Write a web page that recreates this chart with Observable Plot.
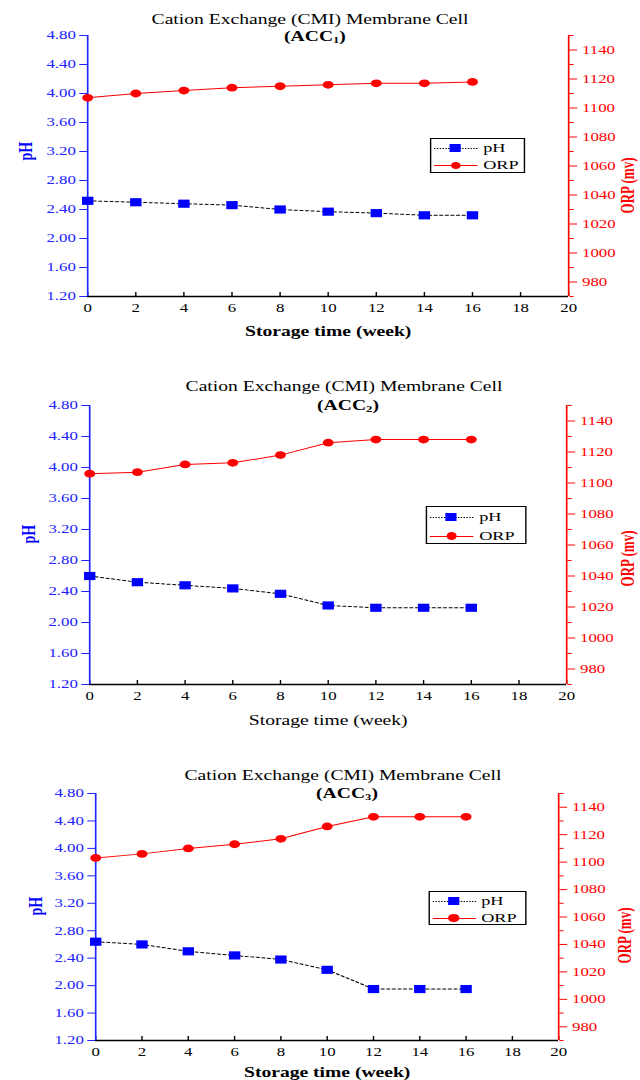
<!DOCTYPE html>
<html>
<head>
<meta charset="utf-8">
<script src="https://cdn.jsdelivr.net/npm/d3@7"></script>
<script src="https://cdn.jsdelivr.net/npm/@observablehq/plot@0.6"></script>
<style>
  html, body { margin: 0; padding: 0; background: #fff; }
  #wrap { position: relative; width: 457px; height: 1080px; transform: scaleX(1.4004); transform-origin: 0 0;
          font-family: "Liberation Serif", "Times New Roman", serif; overflow: visible; }
  .abs { position: absolute; }
  .title { position: absolute; white-space: nowrap; transform: translate(-50%, -50%); font-size: 14px; color: #000; }
  .sub { font-weight: bold; }
  .sub sub { font-size: 9px; vertical-align: -2px; }
  .legend { position: absolute; border: 1px solid #000; background: #fff; box-sizing: border-box; }
  .row { position: absolute; left: 0; height: 14px; width: 100%; }
  .row .ln { position: absolute; left: 2px; width: 31px; top: 7px; height: 0; }
  .row .mk { position: absolute; }
  .row .tx { position: absolute; left: 37px; top: -1px; font-size: 13px; line-height: 16px; color: #000; }
</style>
</head>
<body>
<div id="wrap"></div>
<script>
// ---------- data ----------
const weeks = [0, 2, 4, 6, 8, 10, 12, 14, 16];
const ph1  = [2.52, 2.50, 2.48, 2.46, 2.40, 2.37, 2.35, 2.32, 2.32];
const orp1 = [1107, 1110, 1112, 1114, 1115, 1116, 1117, 1117, 1118];
const ph2  = [2.60, 2.52, 2.48, 2.44, 2.37, 2.22, 2.19, 2.19, 2.19];
const orp2 = [1106, 1107, 1112, 1113, 1118, 1126, 1128, 1128, 1128];
const ph3  = [2.64, 2.60, 2.50, 2.44, 2.38, 2.23, 1.95, 1.95, 1.95];
const orp3 = [1103, 1106, 1110, 1113, 1117, 1126, 1133, 1133, 1133];

const xTicks = [0, 2, 4, 6, 8, 10, 12, 14, 16, 18, 20];
const phTicks = [1.2, 1.6, 2.0, 2.4, 2.8, 3.2, 3.6, 4.0, 4.4, 4.8];
const orpTicks = [980, 1000, 1020, 1040, 1060, 1080, 1100, 1120, 1140];
const orpMinor = [970, 990, 1010, 1030, 1050, 1070, 1090, 1110, 1130, 1150];
const xDomain = [0, 20];
const phDomain = [1.2, 4.8];
const orpDomain = [970, 1150];

const titleText = "Cation Exchange (CMI) Membrane Cell";
const subNames = ["ACC", "ACC", "ACC"];
const subIdx = ["1", "2", "3"];
const xTitle = "Storage time (week)";
const phTitle = "pH";
const orpTitle = "ORP (mv)";
const legendNames = ["pH", "ORP"];
const phSeries = [ph1, ph2, ph3];
const orpSeries = [orp1, orp2, orp3];

// ---------- layout (reference pixel coords; x is divided by S) ----------
const S = 1.4004;
const PW = 457;
const FONT = "'Liberation Serif', 'Times New Roman', serif";
const BLUE = "#0000ff";
const AXBLUE = "#2222ff";
const RED = "#ff0000";

const panels = [
  {top: 0, height: 345, fTop: 35, fBot: 296, left: 87, right: 568, xBold: true, xLabY: 331,
   title: [310, 20], sub: [315, 37], legend: [430, 138, 95, 35], phLab: [25, 160], orpLab: [627, 157]},
  {top: 370, height: 365, fTop: 405, fBot: 684, left: 89, right: 566, xBold: false, xLabY: 720,
   title: [344, 387], sub: [348, 406], legend: [426, 506, 100, 38], phLab: [28, 543], orpLab: [627, 530]},
  {top: 755, height: 325, fTop: 793, fBot: 1040, left: 95, right: 558, xBold: true, xLabY: 1072,
   title: [343, 776], sub: [347, 794], legend: [428, 891, 98, 34], phLab: [35, 915], orpLab: [624, 907]}
];

const wrap = document.getElementById("wrap");

panels.forEach((p, k) => {
  const data = weeks.map((w, i) => ({week: w, ph: phSeries[k][i], orp: orpSeries[k][i]}));
  const mL = p.left / S, mR = (640 - p.right) / S;
  const mT = p.fTop - p.top, mB = p.top + p.height - p.fBot;
  const frameH = p.fBot - p.fTop;
  const frameMid = (p.fTop + p.fBot) / 2;
  const base = {
    width: PW, height: p.height, marginTop: mT, marginBottom: mB, marginLeft: mL, marginRight: mR,
    style: `font-family: ${FONT}; background: transparent; overflow: visible;`
  };

  // pH plot (left axis + x axis)
  const phPlot = Plot.plot({
    ...base,
    x: {domain: xDomain, axis: null},
    y: {domain: phDomain, axis: null},
    marks: [
      Plot.ruleY([phDomain[0]], {stroke: "#000", strokeWidth: 1.3}),
      Plot.tickX(xTicks, {x: d => d, stroke: "#000", strokeWidth: 1, insetTop: frameH - 4}),
      Plot.axisX(xTicks, {anchor: "bottom", label: null, tickSize: 0, tickPadding: 7, fontSize: 12, fill: "#000",
                          tickFormat: d => String(d)}),
      Plot.ruleX([xDomain[0]], {stroke: AXBLUE, strokeWidth: 1.2}),
      Plot.axisY(phTicks, {anchor: "left", label: null, tickSize: 5.5, tickPadding: 3, fontSize: 12,
                           stroke: AXBLUE, fill: AXBLUE, tickFormat: d => d.toFixed(2)}),
      Plot.line(data, {x: "week", y: "ph", stroke: "#000", strokeWidth: 1, strokeDasharray: "2,2"}),
      Plot.dot(data, {x: "week", y: "ph", symbol: "square", r: 4.6, fill: BLUE, stroke: "none"}),
      Plot.text([xTitle], {frameAnchor: "bottom", dy: p.xLabY - p.fBot, lineAnchor: "middle",
                           fontSize: 14, fontWeight: p.xBold ? "bold" : "normal", fill: "#000"}),
      Plot.text([phTitle], {frameAnchor: "left", rotate: -90, dx: (p.phLab[0] - p.left) / S,
                            dy: p.phLab[1] - frameMid, fontSize: 14, fontWeight: "bold", fill: BLUE})
    ]
  });

  // ORP plot (right axis)
  const orpPlot = Plot.plot({
    ...base,
    x: {domain: xDomain, axis: null},
    y: {domain: orpDomain, axis: null},
    marks: [
      Plot.ruleX([xDomain[1]], {stroke: RED, strokeWidth: 1.2}),
      Plot.axisY(orpMinor, {anchor: "right", label: null, tickSize: 3, tickPadding: 0, stroke: RED, fill: RED,
                            tickFormat: () => ""}),
      Plot.axisY(orpTicks, {anchor: "right", label: null, tickSize: 5.5, tickPadding: 4, fontSize: 12,
                            stroke: RED, fill: RED, tickFormat: d => String(d)}),
      Plot.line(data, {x: "week", y: "orp", stroke: RED, strokeWidth: 1}),
      Plot.dot(data, {x: "week", y: "orp", r: 3.9, fill: RED, stroke: "none"}),
      Plot.text([orpTitle], {frameAnchor: "right", rotate: -90, dx: (p.orpLab[0] - p.right) / S,
                             dy: p.orpLab[1] - frameMid, fontSize: 13, fontWeight: "bold", fill: RED})
    ]
  });

  for (const svg of [phPlot, orpPlot]) {
    const holder = document.createElement("div");
    holder.className = "abs";
    holder.style.left = "0px";
    holder.style.top = p.top + "px";
    holder.appendChild(svg);
    wrap.appendChild(holder);
  }

  // Titles
  const t = document.createElement("div");
  t.className = "title";
  t.style.left = (p.title[0] / S) + "px";
  t.style.top = p.title[1] + "px";
  t.textContent = titleText;
  wrap.appendChild(t);

  const st = document.createElement("div");
  st.className = "title sub";
  st.style.left = (p.sub[0] / S) + "px";
  st.style.top = p.sub[1] + "px";
  st.innerHTML = `(${subNames[k]}<sub>${subIdx[k]}</sub>)`;
  wrap.appendChild(st);

  // Legend
  const [lx, ly, lw, lh] = p.legend;
  const lg = document.createElement("div");
  lg.className = "legend";
  lg.style.left = (lx / S) + "px";
  lg.style.top = ly + "px";
  lg.style.width = (lw / S) + "px";
  lg.style.height = lh + "px";
  const rowGap = lh / 2;
  legendNames.forEach((name, j) => {
    const row = document.createElement("div");
    row.className = "row";
    row.style.top = (rowGap * j + rowGap / 2 - 7) + "px";
    const ln = document.createElement("div");
    ln.className = "ln";
    ln.style.borderTop = j === 0 ? "1px dotted #000" : "1px solid " + RED;
    const mk = document.createElement("div");
    mk.className = "mk";
    if (j === 0) {
      Object.assign(mk.style, {left: "13px", top: "3px", width: "8px", height: "8px", background: BLUE});
    } else {
      Object.assign(mk.style, {left: "13.5px", top: "3.5px", width: "7.5px", height: "7.5px", background: RED, borderRadius: "50%"});
    }
    const tx = document.createElement("div");
    tx.className = "tx";
    tx.textContent = name;
    row.append(ln, mk, tx);
    lg.appendChild(row);
  });
  wrap.appendChild(lg);
});
</script>
</body>
</html>
